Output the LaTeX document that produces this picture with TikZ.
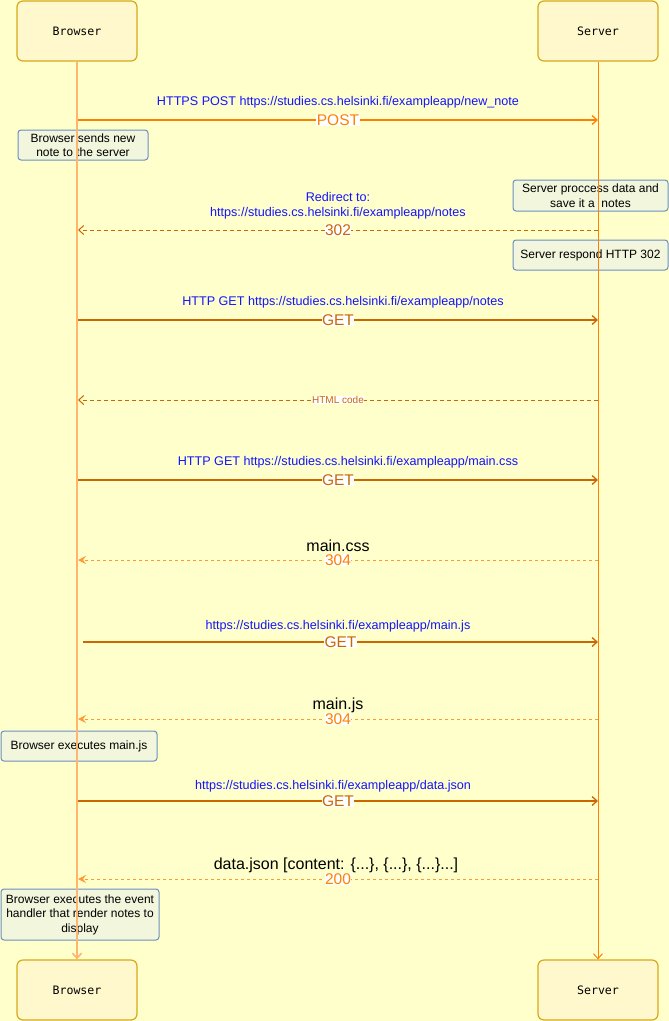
\documentclass[tikz,border=0pt]{standalone}
\usepackage{fontspec}
\setmainfont{Liberation Sans}
\setmonofont{DejaVu Sans Mono}
\usepackage{xcolor}
\usepackage{tikz}
\usetikzlibrary{arrows.meta}
\definecolor{paper}{RGB}{255,255,204}
\definecolor{actorfill}{RGB}{255,242,204}
\definecolor{actorline}{RGB}{214,168,28}
\definecolor{notefill}{RGB}{218,232,252}
\definecolor{noteline}{RGB}{108,142,191}
\definecolor{lightline}{RGB}{255,181,112}
\definecolor{post}{RGB}{255,128,0}
\definecolor{brown}{RGB}{204,102,0}
\definecolor{reply}{RGB}{255,153,51}
\definecolor{url}{RGB}{20,20,255}
\tikzset{
  actor/.style={draw=actorline, fill=actorfill, fill opacity=0.5, text opacity=1, line width=1.2pt,
    rounded corners=6pt, minimum width=120pt, minimum height=60pt, font=\ttfamily\fontsize{11.6}{13}\selectfont},
  note/.style={draw=noteline, fill=notefill, fill opacity=0.35, text opacity=1, line width=1pt,
    rounded corners=3pt, align=center, inner sep=1pt, font=\fontsize{12}{14.5}\selectfont},
  open/.style={-{Straight Barb[length=5pt,width=9pt]}},
  solid/.style={-{Stealth[length=8pt,width=8pt,inset=3pt]}},
  tag/.style={fill=white, inner sep=0.5pt, font=\fontsize{15.5}{16}\selectfont},
  href/.style={text=url, align=center, font=\fontsize{12.6}{15}\selectfont},
  said/.style={font=\fontsize{16}{17}\selectfont}
}
\begin{document}
\begin{tikzpicture}[x=1pt,y=-1pt]
        \fill [paper] (0,0) rectangle (669,1021);
        \useasboundingbox (0,0) rectangle (669,1021);
        \node [actor] (b0) at (77,31) {Browser};
        \node [actor] (s0) at (598,31) {Server};
        \node [actor] (b9) at (77,990) {Browser};
        \node [actor] (s9) at (598,990) {Server};
        \node [note, minimum width=130pt, minimum height=30pt] (nb1) at (83,145) {Browser sends new\\note to the server};
        \node [note, minimum width=155pt, minimum height=31pt] (ns1) at (590.5,195.5) {Server proccess data and\\save it a\ \ notes};
        \node [note, minimum width=155pt, minimum height=30pt] (ns2) at (590.5,255) {Server respond HTTP 302};
        \node [note, minimum width=156pt, minimum height=30pt] (nb2) at (79,746) {Browser executes main.js};
        \node [note, minimum width=158pt, minimum height=51pt] (nb3) at (80,914.5) {Browser executes the event\\handler that render notes to\\display};
        \draw [open, lightline, line width=1.6pt] (b0.south) -- (b9.north);
        \draw [open, post, line width=1pt] (s0.south) -- (s9.north);
        \coordinate (b1) at (78,120); \coordinate (s1) at (598,120);
        \coordinate (b2) at (78,230); \coordinate (s2) at (598,230);
        \coordinate (b3) at (78,320); \coordinate (s3) at (598,320);
        \coordinate (b4) at (78,400); \coordinate (s4) at (598,400);
        \coordinate (b5) at (78,480); \coordinate (s5) at (598,480);
        \coordinate (b6) at (78,560); \coordinate (s6) at (598,560);
        \coordinate (b7) at (83,642); \coordinate (s7) at (598,642);
        \coordinate (b8) at (78,719); \coordinate (s8) at (598,719);
        \coordinate (b10) at (78,801); \coordinate (s10) at (598,801);
        \coordinate (b11) at (78,879); \coordinate (s11) at (598,879);
        \draw [open, post, line width=1.3pt] (b1)-- node [tag, text=post] (t1) {POST} (s1);
        \node [href] (u1) at (338,102) {HTTPS POST https://studies.cs.helsinki.fi/exampleapp/new\_note};
        \draw [open, brown, line width=1pt, dash pattern=on 4pt off 3pt] (s2)-- node [tag, text=brown] (t2) {302} (b2);
        \node [href] (u2) at (338,205.5) {Redirect to:\\https://studies.cs.helsinki.fi/exampleapp/notes};
        \draw [open, brown, line width=1.3pt] (b3)-- node [tag, text=brown] (t3) {GET} (s3);
        \node [href] (u3) at (343,302) {HTTP GET https://studies.cs.helsinki.fi/exampleapp/notes};
        \draw [open, brown, line width=1pt, dash pattern=on 4pt off 3pt] (s4)-- node [tag, text=brown, font=\fontsize{10}{11}\selectfont] (t4) {HTML code} (b4);
        \draw [open, brown, line width=1.3pt] (b5)-- node [tag, text=brown] (t5) {GET} (s5);
        \node [href] (u5) at (348,462) {HTTP GET https://studies.cs.helsinki.fi/exampleapp/main.css};
        \draw [solid, reply, line width=1pt, dashed] (s6)-- node [tag, text=post] (t6) {304} (b6);
        \node [said] (w6) at (338,546) {main.css};
        \draw [open, brown, line width=1.3pt] (b7)-- node [tag, text=brown] (t7) {GET} (s7);
        \node [href] (u7) at (338,626) {https://studies.cs.helsinki.fi/exampleapp/main.js};
        \draw [solid, reply, line width=1pt, dashed] (s8)-- node [tag, text=post] (t8) {304} (b8);
        \node [said] (w8) at (338,705) {main.js};
        \draw [open, brown, line width=1.3pt] (b10)-- node [tag, text=brown] (t10) {GET} (s10);
        \node [href] (u10) at (333,786) {https://studies.cs.helsinki.fi/exampleapp/data.json};
        \draw [solid, reply, line width=1pt, dashed] (s11)-- node [tag, text=post] (t11) {200} (b11);
        \node [said] (w11) at (336,865) {data.json [content: \{...\}, \{...\}, \{...\}...]};
        \end{tikzpicture}
\end{document}
